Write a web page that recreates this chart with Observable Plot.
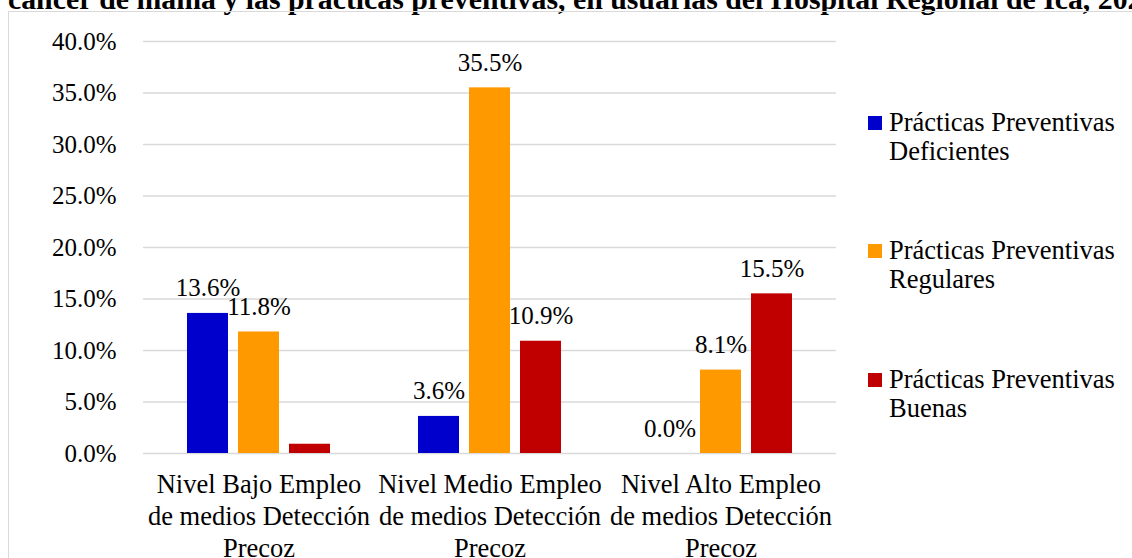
<!DOCTYPE html>
<html><head><meta charset="utf-8">
<script src="https://cdn.jsdelivr.net/npm/d3@7"></script>
<script src="https://cdn.jsdelivr.net/npm/@observablehq/plot@0.6"></script>
<style>
body{margin:0;background:#fff;font-family:'Times New Roman','Liberation Serif',Tinos,'Nimbus Roman','DejaVu Serif',serif;color:#000;}
#wrap{position:relative;width:1132px;height:558px;overflow:hidden;background:#fff;}
#title{position:absolute;left:8px;top:-16px;font-weight:bold;font-size:29.8px;line-height:30px;white-space:nowrap;}
#box{position:absolute;left:8px;top:11px;width:1300px;height:700px;border:1.5px solid #d9d9d9;box-sizing:border-box;}
#chart{position:absolute;left:0;top:0;}
.li{position:absolute;left:868px;font-size:26.5px;line-height:29px;}
.li .sw{position:absolute;left:0;top:8px;width:14px;height:14px;}
.li .tx{position:absolute;left:21px;top:0;white-space:nowrap;}
</style></head>
<body>
<div id="wrap">
  <div id="title"></div>
  <div id="box"></div>
  <div id="chart"></div>
  <div id="legend"></div>
</div>
<script>
const titulo = "cáncer de mama y las prácticas preventivas, en usuarias del Hospital Regional de Ica, 2023";
const grupos = [
  "Nivel Bajo Empleo\nde medios Detección\nPrecoz",
  "Nivel Medio Empleo\nde medios Detección\nPrecoz",
  "Nivel Alto Empleo\nde medios Detección\nPrecoz"
];
const series = [
  "Prácticas Preventivas Deficientes",
  "Prácticas Preventivas Regulares",
  "Prácticas Preventivas Buenas"
];
const leyenda = [
  ["Prácticas Preventivas", "Deficientes"],
  ["Prácticas Preventivas", "Regulares"],
  ["Prácticas Preventivas", "Buenas"]
];
const deficientes = [13.6, 3.6, 0.0];
const regulares = [11.8, 35.5, 8.1];
const buenas = [0.9, 10.9, 15.5];
// whether a value label is shown (the small red bar has none)
const etiquetaDeficientes = [true, true, true];
const etiquetaRegulares = [true, true, true];
const etiquetaBuenas = [false, true, true];
const colores = ["#0000cc", "#ff9900", "#c00000"];
const yTicks = [0, 5, 10, 15, 20, 25, 30, 35, 40];

const valores = [deficientes, regulares, buenas];
const etiquetas = [etiquetaDeficientes, etiquetaRegulares, etiquetaBuenas];
const data = [];
grupos.forEach((g, i) => series.forEach((s, j) => {
  data.push({grupo: g, serie: s, valor: valores[j][i], etiqueta: etiquetas[j][i]});
}));

document.getElementById("title").textContent = titulo;

const FONT = "'Times New Roman', 'Liberation Serif', Tinos, 'Nimbus Roman', 'DejaVu Serif', serif";
const chart = Plot.plot({
  width: 1132, height: 558,
  marginLeft: 142, marginRight: 296, marginTop: 41, marginBottom: 105,
  style: {fontFamily: FONT, fontSize: "25px", color: "#000", background: "transparent", overflow: "visible"},
  fx: {domain: grupos, padding: 0, label: null},
  x: {domain: series, paddingInner: 0.19, paddingOuter: 0.82, axis: null},
  y: {domain: [0, 40], label: null},
  color: {domain: series, range: colores},
  marks: [
    Plot.ruleY(yTicks, {stroke: "#d9d9d9", strokeWidth: 1.3}),
    Plot.barY(data, {fx: "grupo", x: "serie", y: "valor", fill: "serie"}),
    Plot.text(data.filter(d => d.etiqueta), {fx: "grupo", x: "serie", y: "valor", text: d => d.valor.toFixed(1) + "%", dy: -17, lineAnchor: "bottom", fontSize: 25, fontFamily: FONT, fill: "#000"}),
    Plot.axisY({ticks: yTicks, tickFormat: d => d.toFixed(1) + "%", tickSize: 0, tickPadding: 27, fontSize: 25, fontFamily: FONT, label: null}),
    Plot.axisFx({anchor: "bottom", tickSize: 0, tickPadding: 17, fontSize: 26.5, fontFamily: FONT, lineHeight: 1.2, label: null})
  ]
});
document.getElementById("chart").appendChild(chart);

const tops = [108, 236, 365];
const leg = document.getElementById("legend");
leyenda.forEach((l, i) => {
  const d = document.createElement("div");
  d.className = "li";
  d.style.top = tops[i] + "px";
  d.innerHTML = `<div class="sw" style="background:${colores[i]}"></div><div class="tx">${l[0]}<br>${l[1]}</div>`;
  leg.appendChild(d);
});
</script>
</body></html>
